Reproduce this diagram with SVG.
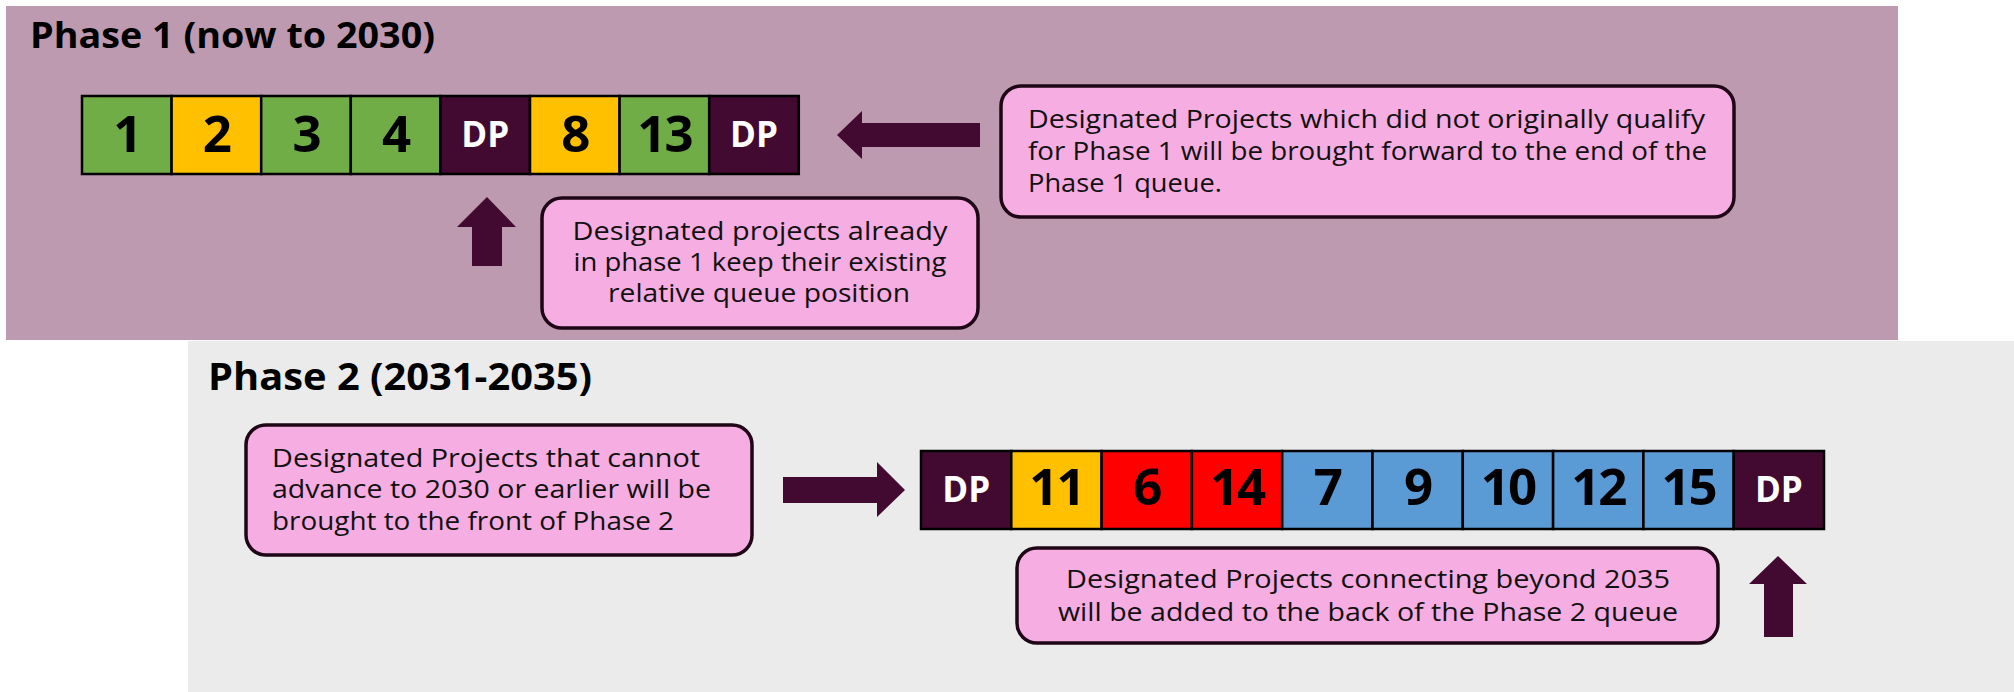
<svg xmlns="http://www.w3.org/2000/svg" width="2014" height="692" viewBox="0 0 2014 692">
  <defs>
    <style>
      .phase1-bg { fill: #BD9AB0; }
      .phase2-bg { fill: #EBEBEB; }
      .title { font-family: "Open Sans", "Liberation Sans", sans-serif; font-weight: 700; fill: #000; }
      .cell { stroke: #000; stroke-width: 2.5; }
      .green { fill: #70AD47; }
      .yellow { fill: #FFC000; }
      .red { fill: #FF0000; }
      .blue { fill: #5B9BD5; }
      .dp { fill: #420A30; }
      .num { font-family: "Open Sans", "Liberation Sans", sans-serif; font-weight: 700; font-size: 51px; letter-spacing: -2px; fill: #000; text-anchor: middle; }
      .dptext { font-family: "Open Sans", "Liberation Sans", sans-serif; font-weight: 700; font-size: 35px; fill: #fff; text-anchor: middle; }
      .callout { fill: #F6ADE2; stroke: #1E0616; stroke-width: 3.5; }
      .note { font-family: "Open Sans", "Liberation Sans", sans-serif; font-size: 25px; fill: #111; }
      .mid { text-anchor: middle; }
      .arrow { fill: #420A30; }
    </style>
  </defs>

  <!-- Phase panels -->
  <rect class="phase1-bg" x="6" y="6" width="1892" height="334"/>
  <rect class="phase2-bg" x="188" y="341" width="1826" height="351"/>

  <g id="phase1-title">
    <text class="title" x="30" y="48" font-size="35" textLength="405" lengthAdjust="spacingAndGlyphs">Phase 1 (now to 2030)</text>
  </g>
  <g id="phase2-title">
    <text class="title" x="208" y="390" font-size="37" textLength="384" lengthAdjust="spacingAndGlyphs">Phase 2 (2031-2035)</text>
  </g>

  <!-- Phase 1 queue -->
  <g id="phase1-queue">
    <rect class="cell green" x="82" y="96" width="89.6" height="78"/>
    <rect class="cell yellow" x="171.6" y="96" width="89.6" height="78"/>
    <rect class="cell green" x="261.2" y="96" width="89.6" height="78"/>
    <rect class="cell green" x="350.8" y="96" width="89.6" height="78"/>
    <rect class="cell dp" x="440.4" y="96" width="89.6" height="78"/>
    <rect class="cell yellow" x="530" y="96" width="89.6" height="78"/>
    <rect class="cell green" x="619.6" y="96" width="89.6" height="78"/>
    <rect class="cell dp" x="709.2" y="96" width="89.6" height="78"/>
    <text class="num" x="126.8" y="152">1</text>
    <text class="num" x="216.4" y="152">2</text>
    <text class="num" x="306" y="152">3</text>
    <text class="num" x="395.6" y="152">4</text>
    <text class="dptext" x="485.2" y="147">DP</text>
    <text class="num" x="574.8" y="152">8</text>
    <text class="num" x="664.4" y="152">13</text>
    <text class="dptext" x="754" y="147">DP</text>
  </g>

  <!-- Phase 2 queue -->
  <g id="phase2-queue">
    <rect class="cell dp" x="921" y="451" width="90.3" height="78"/>
    <rect class="cell yellow" x="1011.3" y="451" width="90.3" height="78"/>
    <rect class="cell red" x="1101.6" y="451" width="90.3" height="78"/>
    <rect class="cell red" x="1191.9" y="451" width="90.3" height="78"/>
    <rect class="cell blue" x="1282.2" y="451" width="90.3" height="78"/>
    <rect class="cell blue" x="1372.5" y="451" width="90.3" height="78"/>
    <rect class="cell blue" x="1462.8" y="451" width="90.3" height="78"/>
    <rect class="cell blue" x="1553.1" y="451" width="90.3" height="78"/>
    <rect class="cell blue" x="1643.4" y="451" width="90.3" height="78"/>
    <rect class="cell dp" x="1733.7" y="451" width="90.3" height="78"/>
    <text class="dptext" x="966.2" y="502">DP</text>
    <text class="num" x="1056.5" y="505">11</text>
    <text class="num" x="1146.8" y="505">6</text>
    <text class="num" x="1237.1" y="505">14</text>
    <text class="num" x="1327.4" y="505">7</text>
    <text class="num" x="1417.7" y="505">9</text>
    <text class="num" x="1508" y="505">10</text>
    <text class="num" x="1598.3" y="505">12</text>
    <text class="num" x="1688.6" y="505">15</text>
    <text class="dptext" x="1778.9" y="502">DP</text>
  </g>

  <!-- Notes -->
  <g id="note-brought-forward">
    <rect class="callout" x="1001" y="86" width="733" height="131" rx="20"/>
    <text class="note" x="1028" y="128" textLength="677" lengthAdjust="spacingAndGlyphs">Designated Projects which did not originally qualify</text>
    <text class="note" x="1028" y="160" textLength="679" lengthAdjust="spacingAndGlyphs">for Phase 1 will be brought forward to the end of the</text>
    <text class="note" x="1028" y="192" textLength="194" lengthAdjust="spacingAndGlyphs">Phase 1 queue.</text>
  </g>

  <g id="note-keep-position">
    <rect class="callout" x="542" y="198" width="436" height="130" rx="20"/>
    <text class="note mid" x="760" y="240" textLength="375" lengthAdjust="spacingAndGlyphs">Designated projects already</text>
    <text class="note mid" x="760" y="271" textLength="373" lengthAdjust="spacingAndGlyphs">in phase 1 keep their existing</text>
    <text class="note mid" x="759" y="302" textLength="302" lengthAdjust="spacingAndGlyphs">relative queue position</text>
  </g>

  <g id="note-front-of-phase2">
    <rect class="callout" x="246" y="425" width="506" height="130" rx="20"/>
    <text class="note" x="272" y="467" textLength="428" lengthAdjust="spacingAndGlyphs">Designated Projects that cannot</text>
    <text class="note" x="272" y="498" textLength="439" lengthAdjust="spacingAndGlyphs">advance to 2030 or earlier will be</text>
    <text class="note" x="272" y="530" textLength="402" lengthAdjust="spacingAndGlyphs">brought to the front of Phase 2</text>
  </g>

  <g id="note-back-of-phase2">
    <rect class="callout" x="1017" y="548" width="701" height="95" rx="20"/>
    <text class="note mid" x="1368" y="588" textLength="604" lengthAdjust="spacingAndGlyphs">Designated Projects connecting beyond 2035</text>
    <text class="note mid" x="1368" y="621" textLength="620" lengthAdjust="spacingAndGlyphs">will be added to the back of the Phase 2 queue</text>
  </g>

  <!-- Block arrows -->
  <g id="connectors">
    <polygon class="arrow" points="837,135 862,111 862,123 980,123 980,147 862,147 862,159"/>
    <polygon class="arrow" points="487,197 516,227 502,227 502,266 472,266 472,227 457,227"/>
    <polygon class="arrow" points="905,490 877,462 877,477 783,477 783,503 877,503 877,517"/>
    <polygon class="arrow" points="1778,556 1807,584 1793,584 1793,637 1764,637 1764,584 1749,584"/>
  </g>
</svg>
